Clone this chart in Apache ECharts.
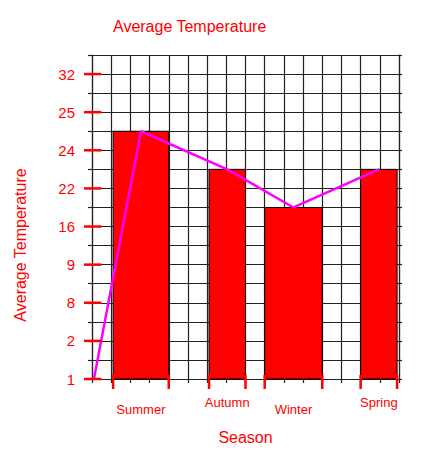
<!DOCTYPE html>
<html>
<head>
<meta charset="utf-8">
<title>Average Temperature</title>
<script src="https://cdn.jsdelivr.net/npm/echarts@6/dist/echarts.min.js"></script>
<style>
  html, body { margin: 0; padding: 0; background: #fff; }
  #chart { width: 434px; height: 472px; }
</style>
</head>
<body>
<div id="chart"></div>
<script>
// 季节柱：x 方向按网格列计，高度按网格行计
const seasons = ['Summer', 'Autumn', 'Winter', 'Spring'];
const barStart = [1.1, 6.1, 9.0, 14.0];
const barEnd = [4.0, 8.0, 12.0, 15.9];
const barTop = [13, 11, 9, 11];

// 折线点（从原点出发，经过各柱顶中点）
const lineX = [0.1, 2.55, 7.05, 10.5, 14.95];
const lineY = [0, 13, 11, 9, 11];

// y 轴刻度文字，每两行一个
const yTickLabels = ['1', '2', '8', '9', '16', '22', '24', '25', '32'];

const RED = '#ff0000';
const GRID_COLOR = '#222';
const FONT = "'Liberation Sans', Arial, sans-serif";

const chart = echarts.init(document.getElementById('chart'), null, { renderer: 'svg' });

/**
 * 柱子 + 底部红色刻度 + 季节名
 */
function renderBar(params, api) {
    const topLeft = api.coord([api.value(0), api.value(2)]);
    const bottomRight = api.coord([api.value(1), 0]);
    const idx = params.dataIndex;
    const children = [{
        type: 'rect',
        shape: {
            x: topLeft[0], y: topLeft[1],
            width: bottomRight[0] - topLeft[0],
            height: bottomRight[1] - topLeft[1]
        },
        style: { fill: RED, stroke: '#000', lineWidth: 1 }
    }];
    [topLeft[0], bottomRight[0]].forEach(x => {
        children.push({
            type: 'line',
            shape: { x1: x, y1: bottomRight[1] - 4, x2: x, y2: bottomRight[1] + 10 },
            style: { stroke: RED, lineWidth: 2.5 }
        });
    });
    children.push({
        type: 'text',
        style: {
            text: seasons[idx],
            x: (topLeft[0] + bottomRight[0]) / 2,
            y: bottomRight[1] + (idx % 2 === 0 ? 30 : 23),
            fill: RED,
            font: `13px ${FONT}`,
            align: 'center', verticalAlign: 'middle',
            textAlign: 'center', textVerticalAlign: 'middle'
        }
    });
    return { type: 'group', children: children };
}

// y 轴上的红色短刻度
function renderYTick(params, api) {
    const p = api.coord([api.value(0), api.value(1)]);
    return {
        type: 'line',
        shape: { x1: p[0] - 8, y1: p[1], x2: p[0] + 9.5, y2: p[1] },
        style: { stroke: RED, lineWidth: 2.5 }
    };
}

const gridLine = { show: true, lineStyle: { color: GRID_COLOR, width: 1.2 } };

const option = {
    animation: false,
    title: {
        text: 'Average Temperature',
        left: 113, top: 18, padding: 0,
        textStyle: { color: RED, fontSize: 16, fontWeight: 'normal', fontFamily: FONT }
    },
    graphic: [{
        type: 'text',
        x: 20, y: 245,
        rotation: Math.PI / 2,
        style: {
            text: 'Average Temperature',
            fill: RED,
            font: `16px ${FONT}`,
            align: 'center', verticalAlign: 'middle',
            textAlign: 'center', textVerticalAlign: 'middle'
        }
    }],
    grid: { left: 92, right: 35, top: 55, bottom: 93 },
    xAxis: {
        type: 'value', min: 0, max: 16, interval: 1,
        name: 'Season', nameLocation: 'middle', nameGap: 50,
        nameTextStyle: { color: RED, fontSize: 16, fontFamily: FONT },
        axisLine: gridLine,
        axisTick: { show: true, length: 4, lineStyle: { color: GRID_COLOR, width: 1.2 } },
        axisLabel: { show: false },
        splitLine: gridLine
    },
    yAxis: [{
        type: 'value', min: 0, max: 17, interval: 1,
        axisLine: gridLine,
        axisTick: { show: true, length: 4, lineStyle: { color: GRID_COLOR, width: 1.2 } },
        axisLabel: {
            color: RED, fontSize: 15, fontFamily: FONT, margin: 17,
            formatter: (v) => (v % 2 === 0 ? (yTickLabels[v / 2] || '') : '')
        },
        splitLine: gridLine
    }, {
        type: 'value', min: 0, max: 17, interval: 1, position: 'right',
        axisLine: gridLine,
        axisTick: { show: true, length: 3, lineStyle: { color: GRID_COLOR, width: 1.2 } },
        axisLabel: { show: false },
        splitLine: { show: false }
    }],
    series: [{
        type: 'custom',
        renderItem: renderBar,
        data: seasons.map((s, i) => [barStart[i], barEnd[i], barTop[i]]),
        encode: { x: [0, 1], y: 2 },
        z: 2
    }, {
        type: 'line',
        data: lineX.map((x, i) => [x, lineY[i]]),
        showSymbol: false,
        lineStyle: { color: '#ff00ff', width: 2.5 },
        z: 4
    }, {
        type: 'custom',
        renderItem: renderYTick,
        data: yTickLabels.map((t, i) => [0, i * 2]),
        z: 5
    }]
};

chart.setOption(option);
</script>
</body>
</html>
